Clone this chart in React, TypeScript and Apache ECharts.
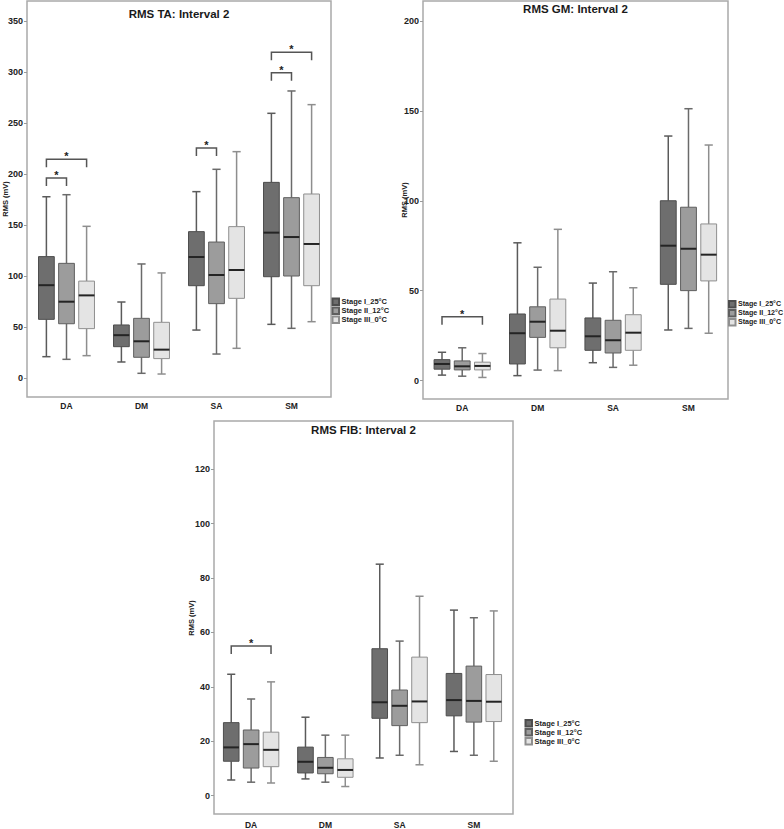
import React, { useEffect, useRef } from 'react';
import * as echarts from 'echarts';

const categories = ['DA', 'DM', 'SA', 'SM'];
const stageNames = ['Stage I_25°C', 'Stage II_12°C', 'Stage III_0°C'];

// each row: [min, q1, median, q3, max] for DA, DM, SA, SM
const taStage1 = [[20.9, 57.5, 91, 119, 177.7], [15.7, 30.7, 42, 52, 74.5], [47, 90.5, 118.6, 143.5, 182.7], [52.6, 99.3, 142.5, 191.8, 259.5]];
const taStage2 = [[18.3, 53.2, 74.8, 112.4, 179.7], [4.6, 20.3, 36, 58.5, 111.8], [23.5, 72.9, 101, 133.3, 204.6], [48.7, 100, 138.2, 176.8, 281.4]];
const taStage3 = [[21.9, 48.4, 81, 95, 148.7], [3.9, 19, 27.8, 54.6, 103], [29.1, 78.1, 105.9, 148.4, 221.9], [55.2, 90.5, 131.4, 180.4, 268]];

const gmStage1 = [[3, 6.3, 9.2, 11.6, 15.7], [2.7, 9.2, 26.3, 37, 76.6], [9.9, 16.8, 24.6, 34.8, 54.2], [28.1, 53.5, 75, 100, 136]];
const gmStage2 = [[2.4, 5.9, 7.9, 10.9, 18.2], [5.8, 24, 32.7, 41, 63], [7.3, 15.3, 22.4, 33.5, 60.5], [29, 50, 73.3, 96.4, 151.2]];
const gmStage3 = [[1.7, 5.9, 8.1, 10.2, 15], [5.5, 18.2, 27.7, 45.3, 84.1], [8.5, 16.8, 26.6, 36.6, 51.6], [26.3, 55.4, 70, 87.1, 131]];

const fibStage1 = [[5.7, 12.6, 17.7, 26.8, 44.6], [6.1, 8.3, 12.4, 17.8, 28.8], [13.8, 28.4, 34.3, 54, 85.1], [16.2, 29.3, 35.1, 44.9, 68.2]];
const fibStage2 = [[4.9, 10.1, 18.9, 24.1, 35.5], [4.9, 8, 10.2, 14, 22.2], [14.8, 25.7, 33, 38.8, 56.8], [14.8, 27, 34.8, 47.6, 65.4]];
const fibStage3 = [[4.6, 10.6, 16.8, 23.3, 41.8], [3.3, 6.7, 9.4, 13.5, 22.2], [11.3, 26.8, 34.6, 50.9, 73.3], [12.6, 27.2, 34.5, 44.5, 67.9]];

// significance brackets: [category index, from stage, to stage, bracket value]
const taBrackets = [[0, 0, 1, 196], [0, 0, 2, 214.5], [2, 0, 1, 225.5], [3, 0, 1, 299.3], [3, 0, 2, 319.3]];
const gmBrackets = [[0, 0, 2, 35.5]];
const fibBrackets = [[0, 0, 2, 55]];

const panelTitles = ['RMS TA: Interval 2', 'RMS GM: Interval 2', 'RMS FIB: Interval 2'];
const yMax = [350, 200, 120];
const yInterval = [50, 50, 20];

const FONT = 'Liberation Sans, Arial, sans-serif';
const fills = ['#6e6e6e', '#9c9c9c', '#e4e4e4'];
const borders = ['#4d4d4d', '#5f5f5f', '#8f8f8f'];
const whiskers = ['#5a5a5a', '#6a6a6a', '#8e8e8e'];

const BOX_FRAC = 0.21;
const SPACE_FRAC = 0.268;

function boxSeries(panel: number, stage: number, rows: number[][]) {
  return {
    type: 'custom',
    name: stageNames[stage],
    xAxisIndex: panel,
    yAxisIndex: panel,
    data: rows.map((r, i) => [i, ...r]),
    encode: { x: 0, y: [1, 2, 3, 4, 5] },
    itemStyle: { color: fills[stage], borderColor: borders[stage], borderWidth: 1 },
    renderItem: (params: any, api: any) => {
      const cat = api.value(0);
      const band = api.size([1, 0])[0];
      const bw = band * BOX_FRAC;
      const cx = api.coord([cat, 0])[0] + (stage - 1) * band * SPACE_FRAC;
      const ys = [1, 2, 3, 4, 5].map((d) => api.coord([cat, api.value(d)])[1]);
      const [yMin, yQ1, yMed, yQ3, yMx] = ys;
      const cap = bw * 0.26;
      const ws = { stroke: whiskers[stage], lineWidth: 1.5 };
      return {
        type: 'group',
        children: [
          { type: 'line', shape: { x1: cx, y1: yQ3, x2: cx, y2: yMx }, style: ws },
          { type: 'line', shape: { x1: cx, y1: yQ1, x2: cx, y2: yMin }, style: ws },
          { type: 'line', shape: { x1: cx - cap, y1: yMx, x2: cx + cap, y2: yMx }, style: ws },
          { type: 'line', shape: { x1: cx - cap, y1: yMin, x2: cx + cap, y2: yMin }, style: ws },
          {
            type: 'rect',
            shape: { x: cx - bw / 2, y: yQ3, width: bw, height: yQ1 - yQ3 },
            style: { fill: fills[stage], stroke: borders[stage], lineWidth: 1 },
          },
          {
            type: 'line',
            shape: { x1: cx - bw / 2, y1: yMed, x2: cx + bw / 2, y2: yMed },
            style: { stroke: '#242424', lineWidth: 2 },
          },
        ],
      };
    },
  };
}

function bracketSeries(panel: number, rows: number[][]) {
  return {
    type: 'custom',
    name: 'significance',
    xAxisIndex: panel,
    yAxisIndex: panel,
    data: rows,
    encode: { x: 0, y: 3 },
    renderItem: (params: any, api: any) => {
      const cat = api.value(0);
      const a = api.value(1);
      const b = api.value(2);
      const band = api.size([1, 0])[0];
      const c = api.coord([cat, api.value(3)]);
      const x1 = c[0] + (a - 1) * band * SPACE_FRAC;
      const x2 = c[0] + (b - 1) * band * SPACE_FRAC;
      const y = c[1];
      return {
        type: 'group',
        children: [
          {
            type: 'polyline',
            shape: { points: [[x1, y + 8], [x1, y], [x2, y], [x2, y + 8]] },
            style: { stroke: '#555555', lineWidth: 1.5, fill: 'none' },
          },
          {
            type: 'text',
            x: (x1 + x2) / 2,
            y: y - 3,
            style: {
              text: '*', fontSize: 11, fontWeight: 'bold', fontFamily: FONT,
              fill: '#222222', align: 'center', verticalAlign: 'middle',
            },
          },
        ],
      };
    },
  };
}

// layout of the three panels
const grids = [
  { left: 29, top: 21, width: 300, height: 357 },
  { left: 424.5, top: 21, width: 301.7, height: 359.5 },
  { left: 214, top: 469.3, width: 297, height: 328.4 },
];
const axisOffsets = [2, 1.5, 0];
const frames = [
  { x: 27, y: 1, width: 304, height: 396 },
  { x: 423, y: 1, width: 305, height: 398 },
  { x: 214, y: 421, width: 299, height: 393 },
];
const titlePos = [{ left: 179, top: 8 }, { left: 575.5, top: 2.5 }, { left: 363.5, top: 424 }];
const yNamePos = [{ x: 5.5, y: 199 }, { x: 404, y: 200 }, { x: 191.5, y: 618 }];
const legendPos = [{ left: 331.5, top: 297.5 }, { left: 728, top: 300 }, { left: 524.5, top: 719 }];
const legendFont = [7.5, 7.1, 7.5];
const catLabelMargin = [23.5, 23, 24.5];

export default function App() {
  const ref = useRef<HTMLDivElement>(null);
  useEffect(() => {
    if (!ref.current) return;
    const chart = echarts.init(ref.current, undefined, { renderer: 'svg' });
    const stageData = [
      [taStage1, taStage2, taStage3],
      [gmStage1, gmStage2, gmStage3],
      [fibStage1, fibStage2, fibStage3],
    ];
    const brackets = [taBrackets, gmBrackets, fibBrackets];
    const series: any[] = [];
    stageData.forEach((stages, p) => {
      stages.forEach((rows, s) => series.push(boxSeries(p, s, rows)));
      series.push(bracketSeries(p, brackets[p]));
    });
    const option: any = {
      animation: false,
      backgroundColor: '#ffffff',
      title: panelTitles.map((t, i) => ({
        text: t,
        left: titlePos[i].left,
        top: titlePos[i].top,
        textAlign: 'center',
        padding: 0,
        textStyle: { fontSize: 11.5, fontWeight: 'bold', color: '#1a1a1a', fontFamily: FONT },
      })),
      legend: legendPos.map((pos, i) => ({
        data: stageNames,
        orient: 'vertical',
        left: pos.left,
        top: pos.top,
        padding: 0,
        itemWidth: 6.5,
        itemHeight: 6.5,
        itemGap: 0.5,
        icon: 'rect',
        selectedMode: false,
        textStyle: {
          fontSize: legendFont[i], fontWeight: 'bold', color: '#222222', fontFamily: FONT,
          lineHeight: 7.5, padding: [0, 0, 0, -2.5],
        },
      })),
      grid: grids.map((g) => ({ ...g, containLabel: false })),
      xAxis: grids.map((_, i) => ({
        type: 'category',
        gridIndex: i,
        data: categories,
        axisLine: { show: false },
        axisTick: { show: false },
        splitLine: { show: false },
        axisLabel: {
          margin: catLabelMargin[i], fontSize: 8.5, fontWeight: 'bold', color: '#222222', fontFamily: FONT,
        },
      })),
      yAxis: grids.map((_, i) => ({
        type: 'value',
        gridIndex: i,
        min: 0,
        max: yMax[i],
        interval: yInterval[i],
        offset: axisOffsets[i],
        axisLine: { show: false },
        axisTick: { show: true, length: 3, lineStyle: { color: '#9a9a9a', width: 1 } },
        splitLine: { show: false },
        axisLabel: { margin: 4, fontSize: 9, fontWeight: 'bold', color: '#222222', fontFamily: FONT },
      })),
      graphic: [
        ...frames.map((f) => ({
          type: 'rect',
          shape: f,
          silent: true,
          z: -1,
          style: { fill: 'none', stroke: '#a9a9a9', lineWidth: 1.5 },
        })),
        ...yNamePos.map((p) => ({
          type: 'text',
          x: p.x,
          y: p.y,
          rotation: Math.PI / 2,
          silent: true,
          style: {
            text: 'RMS (mV)', fontSize: 7.5, fontWeight: 'bold', fontFamily: FONT,
            fill: '#222222', align: 'center', verticalAlign: 'middle',
          },
        })),
      ],
      series,
    };
    chart.setOption(option);
    return () => chart.dispose();
  }, []);
  return (
    <div
      ref={ref}
      style={{ position: 'fixed', left: 0, top: 0, width: 784, height: 829, background: '#fff' }}
    />
  );
}
